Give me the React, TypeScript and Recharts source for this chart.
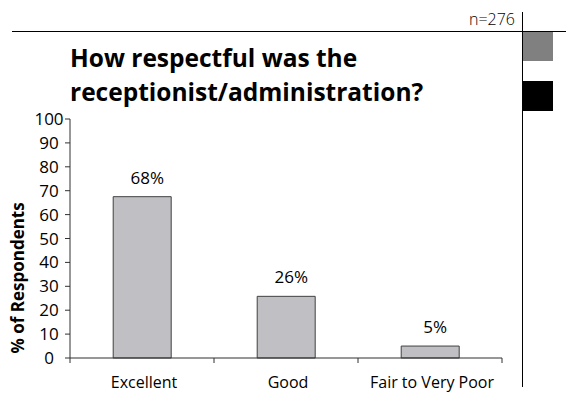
import React from 'react';
import { BarChart, Bar, XAxis, YAxis, LabelList } from 'recharts';

const categories = ['Excellent', 'Good', 'Fair to Very Poor'];
const percentages = [67.5, 25.8, 5.0];
const valueLabels = ['68%', '26%', '5%'];
const yTicks = [0, 10, 20, 30, 40, 50, 60, 70, 80, 90, 100];
const titleLines = ['How respectful was the', 'receptionist/administration?'];
const sampleNote = 'n=276';
const yAxisTitle = '% of Respondents';

const data = categories.map((c, i) => ({ name: c, value: percentages[i], label: valueLabels[i] }));

const FONT = '"Open Sans", sans-serif';
const AXIS = '#303030';

const YTick = (props: any) => {
  const { x, y, payload } = props;
  return (
    <text x={x - 14} y={y} dy={6} textAnchor="middle" fontFamily={FONT} fontSize={17} fill="#000">
      {payload.value}
    </text>
  );
};

const XTick = (props: any) => {
  const { x, y, payload, index, width, visibleTicksCount } = props;
  const step = width / visibleTicksCount;
  const left = x - step / 2;
  const right = x + step / 2;
  const last = index === visibleTicksCount - 1;
  return (
    <g>
      <line x1={left} x2={left} y1={y} y2={y + 5} stroke={AXIS} strokeWidth={1} />
      {last && <line x1={right} x2={right} y1={y} y2={y + 5} stroke={AXIS} strokeWidth={1} />}
      <text x={x + 2} y={y + 30} textAnchor="middle" fontFamily={FONT} fontSize={16} fill="#000">
        {payload.value}
      </text>
    </g>
  );
};

const ValueLabel = (props: any) => {
  const { x, y, width, value } = props;
  return (
    <text x={x + width / 2 + 5} y={y - 13} textAnchor="middle" fontFamily={FONT} fontSize={17} fill="#000">
      {value}
    </text>
  );
};

const YTitle = (props: any) => {
  const { viewBox } = props;
  const cx = viewBox.x + 24;
  const cy = viewBox.y + viewBox.height * 0.665;
  return (
    <text
      x={cx}
      y={cy}
      transform={`rotate(-90, ${cx}, ${cy})`}
      textAnchor="middle"
      fontFamily={FONT}
      fontWeight={700}
      fontSize={17}
      fill="#000"
    >
      {yAxisTitle}
    </text>
  );
};

export default function App() {
  return (
    <div style={{ position: 'absolute', left: 0, top: 0, width: 566, height: 394, background: '#fff', fontFamily: FONT }}>
      <BarChart
        width={566}
        height={394}
        data={data}
        margin={{ top: 119, right: 64, bottom: 0, left: 0 }}
        barCategoryGap="30%"
      >
        <XAxis
          dataKey="name"
          height={36}
          tickLine={false}
          tickSize={0}
          tickMargin={0}
          axisLine={{ stroke: AXIS, strokeWidth: 1 }}
          tick={<XTick />}
          interval={0}
        />
        <YAxis
          width={70}
          domain={[0, 100]}
          ticks={yTicks}
          interval={0}
          tickSize={5}
          tickMargin={2}
          tickLine={{ stroke: AXIS, strokeWidth: 1 }}
          axisLine={{ stroke: AXIS, strokeWidth: 1 }}
          tick={<YTick />}
          label={<YTitle />}
        />
        <Bar dataKey="value" fill="#c0c0c4" stroke="#404040" strokeWidth={1} isAnimationActive={false}>
          <LabelList dataKey="label" content={<ValueLabel />} />
        </Bar>
      </BarChart>

      <div style={{ position: 'absolute', left: 12, top: 31, width: 554, height: 1, background: '#000' }} />
      <div style={{ position: 'absolute', left: 522, top: 12, width: 1, height: 375, background: '#000' }} />
      <div style={{ position: 'absolute', left: 523, top: 32, width: 30, height: 29, background: '#808080' }} />
      <div style={{ position: 'absolute', left: 523, top: 81, width: 30, height: 30, background: '#000' }} />
      <div
        style={{
          position: 'absolute',
          right: 566 - 515,
          top: 7,
          fontFamily: FONT,
          fontWeight: 300,
          fontSize: 16,
          lineHeight: '24px',
          color: '#000',
          whiteSpace: 'nowrap',
        }}
      >
        {sampleNote}
      </div>
      <div
        style={{
          position: 'absolute',
          left: 70,
          top: 41,
          fontFamily: FONT,
          fontWeight: 700,
          fontSize: 24.5,
          lineHeight: '33.5px',
          color: '#000',
          whiteSpace: 'nowrap',
        }}
      >
        {titleLines.map((t) => (
          <div key={t}>{t}</div>
        ))}
      </div>
    </div>
  );
}
